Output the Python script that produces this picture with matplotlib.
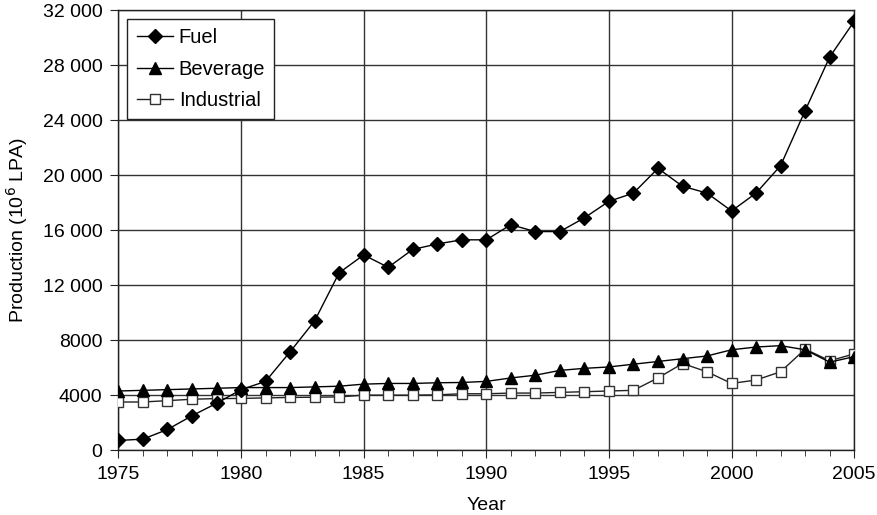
import matplotlib
matplotlib.use("Agg")
import matplotlib.pyplot as plt
from matplotlib.ticker import FuncFormatter, MultipleLocator

plt.rcParams['font.family'] = ['Liberation Sans', 'DejaVu Sans']

years = list(range(1975, 2006))
fuel = [700, 800, 1500, 2500, 3400, 4400, 5000, 7150, 9400, 12900, 14200,
        13300, 14600, 15000, 15300, 15300, 16400, 15900, 15900, 16900, 18100,
        18700, 20500, 19200, 18700, 17400, 18700, 20700, 24700, 28600, 31200]
beverage = [4300, 4350, 4400, 4450, 4500, 4550, 4550, 4550, 4600, 4650, 4800,
            4850, 4850, 4900, 4920, 5000, 5250, 5450, 5800, 5950, 6050,
            6250, 6450, 6650, 6850, 7300, 7500, 7600, 7300, 6400, 6800]
industrial = [3500, 3500, 3600, 3700, 3750, 3760, 3800, 3830, 3850, 3870, 4000,
              4000, 4000, 4020, 4100, 4100, 4150, 4150, 4200, 4250, 4300,
              4350, 5250, 6300, 5700, 4850, 5100, 5700, 7350, 6500, 7000]

fig = plt.figure(figsize=(8.77, 5.15), dpi=100)
ax = fig.add_axes([0.135, 0.126, 0.839, 0.854])

ax.plot(years, fuel, color='black', lw=1.0, marker='D', ms=7, mfc='black', mec='black', label='Fuel', zorder=5)
ax.plot(years, beverage, color='black', lw=1.0, marker='^', ms=8, mfc='black', mec='black', label='Beverage', zorder=4)
ax.plot(years, industrial, color='#222222', lw=1.0, marker='s', ms=7, mfc='white', mec='#333333', mew=1.0, label='Industrial', zorder=3)

ax.set_xlim(1975, 2005)
ax.set_ylim(0, 32000)
ax.xaxis.set_major_locator(MultipleLocator(5))
ax.xaxis.set_minor_locator(MultipleLocator(1))
ax.yaxis.set_major_locator(MultipleLocator(4000))

def yfmt(v, pos):
    v = int(round(v))
    if v >= 10000:
        return f"{v // 1000} {v % 1000:03d}"
    return str(v)
ax.yaxis.set_major_formatter(FuncFormatter(yfmt))

ax.grid(True, which='major', color='#333333', lw=1.0)
ax.set_axisbelow(True)
for s in ax.spines.values():
    s.set_color('#222222')
    s.set_linewidth(1.0)

ax.tick_params(axis='both', which='major', direction='out', length=5.5, labelsize=14, color='#222222')
ax.tick_params(axis='x', which='major', pad=6)
ax.tick_params(axis='y', which='major', pad=6)
ax.tick_params(axis='x', which='minor', direction='out', length=4, color='#222222')

ax.set_xlabel('Year', fontsize=14, labelpad=10)
ax.set_ylabel('Production (10$^6$ LPA)', fontsize=14, labelpad=9)

leg = ax.legend(loc='upper left', bbox_to_anchor=(0.0, 1.0), fontsize=14.5, frameon=True,
                fancybox=False, edgecolor='#222222', framealpha=1, handlelength=1.8,
                borderpad=0.45, labelspacing=0.62, handletextpad=0.3, borderaxespad=0.45)
leg.get_frame().set_linewidth(1.0)

fig.savefig('out.png', dpi=100)
